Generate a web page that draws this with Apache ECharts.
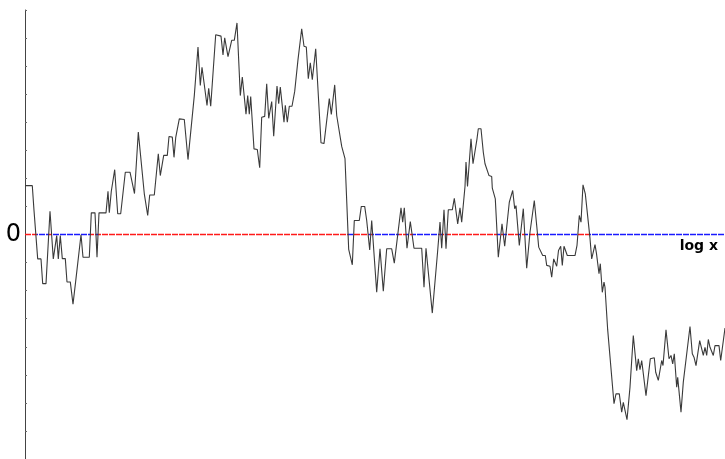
<!DOCTYPE html>
<html>
<head>
<meta charset="utf-8">
<script src="https://cdn.jsdelivr.net/npm/echarts@6/dist/echarts.min.js"></script>
<style>html,body{margin:0;padding:0;background:#fff}#c{width:725px;height:459px}</style>
</head>
<body>
<div id="c"></div>
<script>
var xs = [0, 7.3, 9, 10.7, 12.7, 16, 17.7, 21, 25, 26.7,
28.3, 30.3, 31.7, 33.3, 35.3, 37.3, 40.3, 42, 45.3, 48,
50.7, 52.7, 56, 58, 64.3, 66.3, 70, 72, 74, 81,
83, 84.3, 86.3, 87.7, 89.7, 92.7, 95.7, 100.3, 105, 106.5,
109.5, 113.3, 115, 119.3, 120.5, 122.7, 124.7, 129.3, 133.3, 135.3,
136.7, 138.7, 142.3, 144, 147.3, 149, 150.7, 152.7, 154.3, 159.3,
163, 169.3, 173, 175.3, 177, 178.7, 182, 183.7, 185.7, 190.7,
196, 198, 199.7, 201, 203, 205, 206.7, 209.3, 212, 215.3,
217.3, 221, 222.7, 224.3, 225.7, 229, 232.3, 234.7, 236.7, 239.7,
241.7, 243.7, 245, 246.7, 248.7, 252, 253.7, 255.3, 259, 260.3,
262.3, 264.3, 267, 269.7, 271, 273, 275, 276.7, 279, 281.3,
283.3, 285.3, 287.3, 288.7, 290.7, 292.3, 296, 299, 304.3, 306.3,
309.7, 311.7, 313, 316.7, 318.3, 320, 323.7, 325, 327.3, 329.3,
334.3, 336.3, 339.7, 341.7, 343.3, 344.7, 346.7, 351.7, 355, 358.3,
361.7, 366.7, 369.3, 371, 376, 377.7, 379.3, 382, 383.3, 385.3,
386.7, 389, 396.7, 399, 401, 402, 407.3, 412.7, 415, 416.7,
419, 421, 423.3, 427.3, 429.3, 430.7, 432.7, 435, 436.7, 440,
441, 442.5, 446, 448, 450, 452, 453.3, 456, 458.3, 460,
462, 464, 466.7, 467.3, 469, 470.3, 473.3, 477, 479.7, 481,
484.3, 485.7, 487.7, 489.7, 491, 494.3, 495.7, 498.3, 501.7, 505,
509.3, 511.7, 513.7, 515.7, 517.7, 520.3, 521.7, 525, 526.7, 528.7,
531.7, 533.5, 535.7, 537.3, 539, 541, 542.3, 550, 552, 554.3,
556, 558, 560.3, 561.7, 563.3, 565, 566.7, 570, 571.5, 574,
575.3, 577.3, 579, 580, 582.7, 584.7, 589, 591, 594.3, 596.7,
598.3, 600, 602, 605, 608.3, 611.7, 613.3, 615, 616.7, 618.3,
621, 622.7, 625.3, 629.3, 630.7, 633.3, 636.7, 638, 641, 644,
646, 647.7, 649.3, 651.7, 652.7, 656, 658.3, 665, 667.3, 669,
671, 672.7, 674.7, 676.7, 678.3, 680, 681.7, 683.3, 685, 686.7,
688.3, 690, 694, 695.7, 700];

var ys = [1.74, 1.74, 0.86, 0.86, -0.87, -0.87, -1.75, -1.75, 0.83, 0.83,
-0.87, -0.87, -0.04, -0.87, -0.04, -0.86, -0.86, -1.69, -1.69, -2.48,
-1.66, -1.66, -0.01, -0.81, -0.81, 0.77, 0.77, -0.81, 0.77, 0.77,
1.54, 0.78, 1.54, 1.54, 2.31, 0.74, 0.74, 2.22, 2.22, 2.22,
1.46, 3.65, 3.65, 1.45, 1.39, 0.68, 1.41, 1.41, 2.88, 2.10,
2.10, 2.82, 2.82, 3.49, 3.47, 2.75, 3.45, 3.45, 4.12, 4.10,
2.67, 4.95, 6.68, 5.31, 5.96, 5.93, 4.60, 5.21, 4.57, 7.12,
7.07, 6.40, 7.01, 7.01, 6.34, 6.34, 6.92, 6.92, 7.54, 4.95,
5.61, 4.29, 4.95, 4.29, 4.92, 3.05, 3.03, 2.38, 4.18, 4.21,
5.37, 4.14, 4.14, 4.74, 3.50, 5.29, 4.66, 5.25, 4.00, 4.60,
4.00, 4.57, 4.57, 5.10, 5.10, 6.23, 6.23, 7.33, 6.71, 6.68,
5.55, 6.12, 5.52, 5.52, 6.62, 6.59, 3.27, 3.24, 4.84, 4.28,
5.33, 4.24, 4.24, 3.14, 3.11, 2.70, -0.53, -0.57, -1.08, 0.50,
0.50, 1.00, 1.00, 0.50, 0.50, -0.55, 0.50, -2.06, -0.51, -2.02,
-0.51, -0.51, -1.02, -1.02, 0.95, 0.44, 0.95, -0.49, -0.49, 0.46,
0.46, -0.49, -0.49, -1.88, -0.49, -0.49, -2.80, -0.57, 0.44, -0.49,
0.88, -0.51, 0.88, 0.88, 1.29, 1.29, 0.38, 0.95, 0.44, 1.71,
2.58, 1.71, 3.41, 2.52, 2.52, 3.41, 3.77, 3.77, 2.93, 2.52,
2.51, 2.10, 2.07, 1.65, 1.64, 1.27, -0.81, 0.38, -0.42, -0.42,
1.15, 1.18, 1.57, 0.92, 1.03, -0.39, -0.39, 0.92, -1.20, 0.08,
1.21, 0.32, -0.45, -0.39, -0.75, -0.75, -1.10, -1.13, -1.52, -0.87,
-1.13, -0.57, -0.42, -1.10, -0.42, -0.42, -0.75, -0.75, -0.39, 0.68,
0.44, 1.77, 1.45, 1.39, 0.44, -0.14, -0.87, -0.36, -0.68, -1.40,
-1.04, -2.06, -1.70, -1.88, -3.40, -3.42, -6.03, -5.68, -5.68, -6.33,
-5.98, -5.98, -6.60, -5.44, -3.60, -4.85, -4.43, -4.82, -4.49, -4.49,
-5.74, -5.74, -4.43, -4.39, -4.91, -5.20, -4.49, -4.67, -3.40, -4.43,
-4.31, -4.61, -4.25, -5.44, -5.09, -6.33, -5.26, -3.28, -4.25, -4.37,
-4.67, -4.67, -3.78, -3.78, -4.31, -4.02, -4.31, -3.74, -4.02, -3.96,
-4.31, -3.96, -3.96, -4.49, -3.33];

var yTickLabels = {'0': '0'};
var xName = 'log x';

var n = Math.min(xs.length, ys.length);
var walk = [];
for (var i = 0; i < n; i++) walk.push([xs[i], ys[i]]);

// sign-coloured pieces along the zero line, from the walk's zero crossings
var pieces = [];
var start = xs[0];
var pos = ys[0] >= 0;
for (var j = 1; j < n; j++) {
  var a = ys[j - 1], b = ys[j];
  if ((a >= 0) !== (b >= 0)) {
    var t = a / (a - b);
    var cx = xs[j - 1] + t * (xs[j] - xs[j - 1]);
    pieces.push({gte: start, lt: cx, color: pos ? '#ff1a1a' : '#1a1aff'});
    start = cx;
    pos = b >= 0;
  }
}
pieces.push({gte: start, lte: xs[n - 1] + 1, color: pos ? '#ff1a1a' : '#1a1aff'});

var chart = echarts.init(document.getElementById('c'), null, {renderer: 'canvas'});
chart.setOption({
  animation: false,
  backgroundColor: '#fff',
  grid: {left: 25, right: 0, top: 10, bottom: 0, containLabel: false},
  xAxis: {
    type: 'value', min: 0, max: 700,
    axisLine: {show: false}, axisTick: {show: false}, axisLabel: {show: false},
    splitLine: {show: false},
    name: xName, nameLocation: 'end', nameGap: -7,
    nameTextStyle: {align: 'right', verticalAlign: 'top', fontWeight: 'bold', fontSize: 14,
      color: '#000', fontFamily: 'DejaVu Sans', padding: [5, 0, 0, 0]}
  },
  yAxis: {
    type: 'value', min: -8, max: 8, interval: 1,
    axisLine: {show: true, onZero: false, lineStyle: {color: '#444', width: 1}},
    axisTick: {show: true, inside: true, length: 2, lineStyle: {color: '#666'}},
    axisLabel: {
      formatter: function (v) { return yTickLabels[String(v)] || ''; },
      fontSize: 24, color: '#000', fontFamily: 'DejaVu Sans', margin: 4
    },
    splitLine: {show: false}
  },
  visualMap: {
    type: 'piecewise', show: false, dimension: 0, seriesIndex: 1,
    pieces: pieces
  },
  series: [
    {
      type: 'line', data: walk, symbol: 'none', z: 3,
      lineStyle: {color: '#3a3a3a', width: 1.1}
    },
    {
      type: 'line', data: [[xs[0], 0], [xs[n - 1], 0]], symbol: 'none', z: 2,
      lineStyle: {width: 1.5, type: [6, 1]}
    }
  ]
});
</script>
</body>
</html>
